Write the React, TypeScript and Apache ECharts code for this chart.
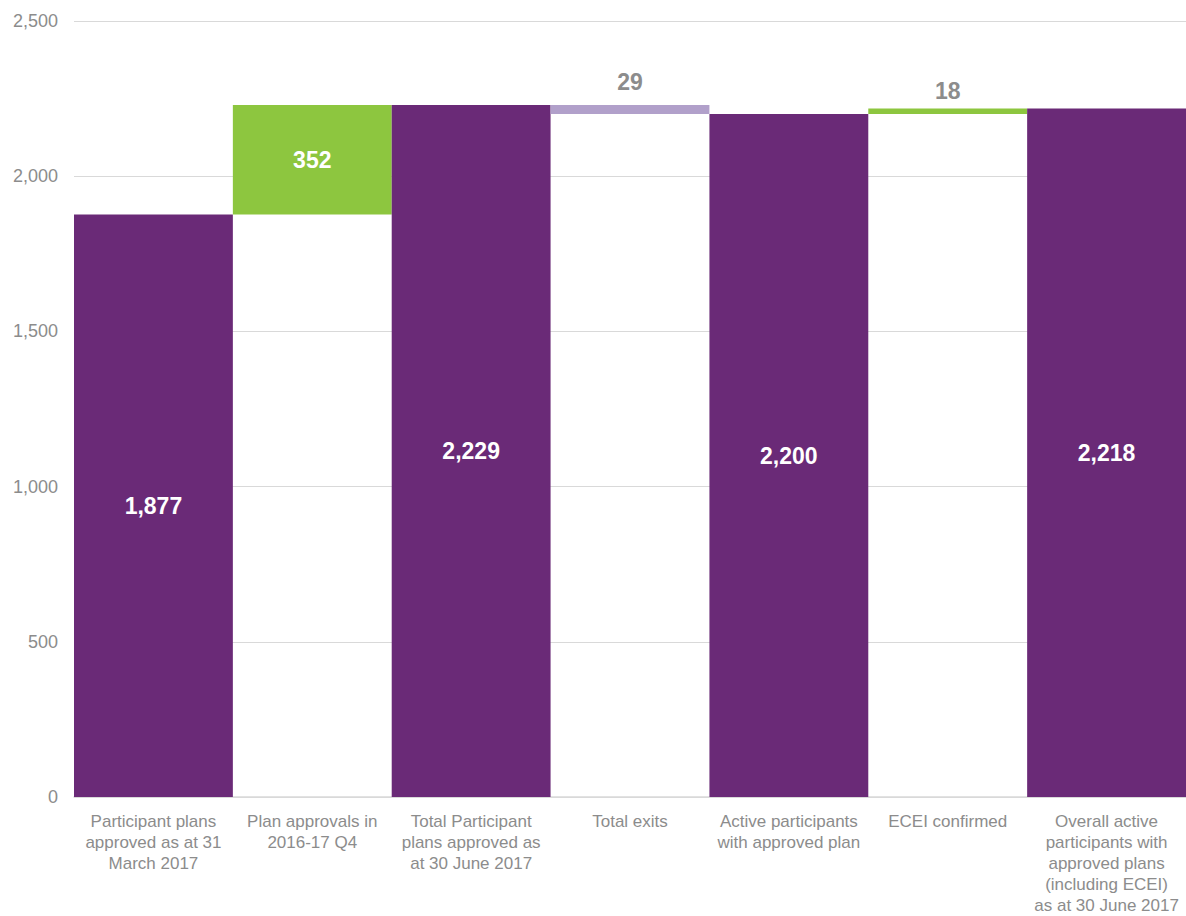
import React, { useEffect, useRef } from "react";
import * as echarts from "echarts";

const categories = [
  "Participant plans\napproved as at 31\nMarch 2017",
  "Plan approvals in\n2016-17 Q4",
  "Total Participant\nplans approved as\nat 30 June 2017",
  "Total exits",
  "Active participants\nwith approved plan",
  "ECEI confirmed",
  "Overall active\nparticipants with\napproved plans\n(including ECEI)\nas at 30 June 2017",
];
const values = [1877, 352, 2229, -29, 2200, 18, 2218];
const kinds = ["total", "increase", "total", "decrease", "total", "increase", "total"];
const yTicks = [0, 500, 1000, 1500, 2000, 2500];

const PURPLE = "#6a2a77";
const GREEN = "#8dc63f";
const LILAC = "#b1a0ca";
const GREY = "#8c8c8c";
const FONT = "Liberation Sans, Arial, sans-serif";

export default function App() {
  const ref = useRef<HTMLDivElement>(null);
  useEffect(() => {
    if (!ref.current) return;
    const chart = echarts.init(ref.current, undefined, { renderer: "svg" });
    let running = 0;
    const base: number[] = [];
    const shown: any[] = [];
    values.forEach((v, i) => {
      const k = kinds[i];
      if (k === "total") {
        base.push(0);
        running = v;
        shown.push({
          value: v,
          itemStyle: { color: PURPLE },
          label: { position: "inside", color: "#fff" },
        });
      } else if (k === "increase") {
        base.push(running);
        running += v;
        const small = v < 100;
        shown.push({
          value: v,
          itemStyle: { color: GREEN },
          label: small
            ? { position: "top", color: GREY, distance: 6 }
            : { position: "inside", color: "#fff" },
        });
      } else {
        running += v;
        base.push(running);
        shown.push({
          value: -v,
          itemStyle: { color: LILAC },
          label: { position: "top", color: GREY, distance: 12 },
        });
      }
    });
    chart.setOption({
      animation: false,
      textStyle: { fontFamily: FONT },
      grid: { left: 74, right: 0, top: 21, bottom: 118, containLabel: false },
      xAxis: {
        type: "category",
        data: categories,
        axisTick: { show: false },
        axisLine: { lineStyle: { color: "#d9d9d9", width: 1.5 } },
        axisLabel: {
          interval: 0,
          color: GREY,
          fontSize: 17,
          lineHeight: 21,
          margin: 14,
          fontFamily: FONT,
        },
      },
      yAxis: {
        type: "value",
        min: yTicks[0],
        max: yTicks[yTicks.length - 1],
        interval: 500,
        axisLine: { show: false },
        axisTick: { show: false },
        splitLine: { lineStyle: { color: "#d9d9d9", width: 1 } },
        axisLabel: {
          color: GREY,
          fontSize: 18,
          margin: 16,
          fontFamily: FONT,
          formatter: (v: number) => v.toLocaleString("en-US"),
        },
      },
      series: [
        {
          type: "bar",
          stack: "w",
          data: base,
          itemStyle: { color: "transparent" },
          barWidth: "100%",
          barCategoryGap: 0,
          silent: true,
        },
        {
          type: "bar",
          stack: "w",
          data: shown,
          barWidth: "100%",
          barCategoryGap: 0,
          label: {
            show: true,
            fontSize: 23,
            fontWeight: "bold",
            fontFamily: FONT,
            formatter: (p: any) => {
              const i = p.dataIndex;
              const v = Math.abs(values[i]);
              return v.toLocaleString("en-US");
            },
          },
        },
      ],
    });
    return () => chart.dispose();
  }, []);
  return (
    <div
      ref={ref}
      style={{ position: "absolute", left: 0, top: 0, width: 1186, height: 916, background: "#fff" }}
    />
  );
}
